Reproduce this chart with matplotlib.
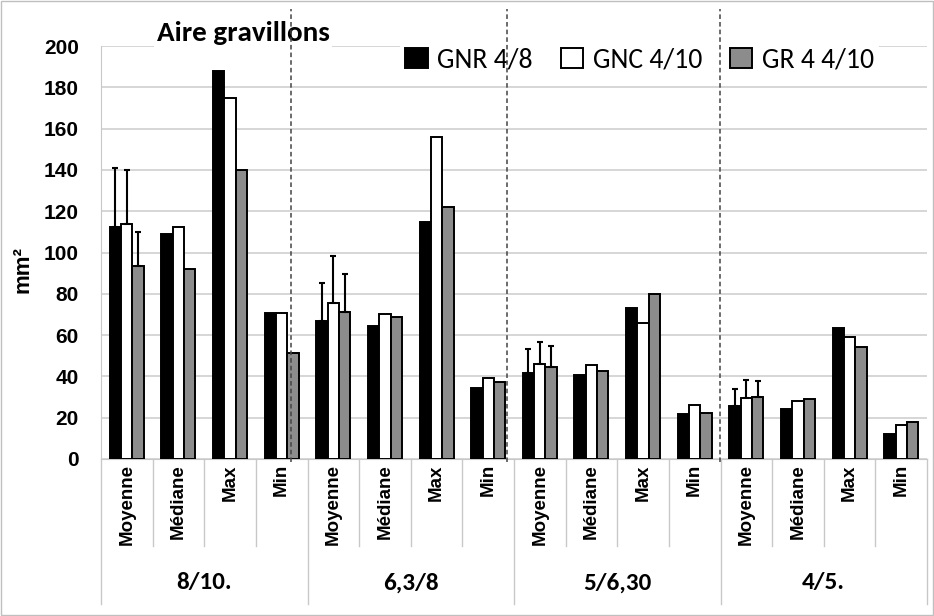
import matplotlib.pyplot as plt
from matplotlib.patches import Rectangle
import numpy as np

plt.rcParams['font.family'] = ['Carlito', 'DejaVu Sans']

# ── Données ───────────────────────────────────────────────────
groups = ['8/10.', '6,3/8', '5/6,30', '4/5.']
stats = ['Moyenne', 'Médiane', 'Max', 'Min']
series = ['GNR 4/8', 'GNC 4/10', 'GR 4 4/10']

gnr = [112.5, 108.8, 188, 70.6,
       67.0, 64.4, 114.8, 34.2,
       41.8, 40.7, 73.0, 21.8,
       25.8, 24.2, 63.6, 12.1]
gnc = [113.6, 112.5, 175, 70.9,
       75.4, 70.0, 156, 39.4,
       45.8, 45.4, 66.0, 26.2,
       29.7, 28.2, 59.2, 16.6]
gr4 = [93.5, 92.2, 140, 51.3,
       71.0, 68.9, 121.9, 37.3,
       44.7, 42.8, 79.9, 22.1,
       30.2, 29.2, 54.1, 17.8]

# écarts-types (seulement pour les moyennes)
err_gnr = [28.5, 18.2, 11.3, 8.2]
err_gnc = [26.4, 23.1, 10.9, 8.7]
err_gr4 = [16.5, 18.6, 10.0, 7.6]

colors = ['#000000', '#ffffff', '#8c8c8c']
arial = 'Liberation Sans'

# ── Figure ────────────────────────────────────────────────────
fig = plt.figure(figsize=(9.34, 6.16), dpi=100)
ax = fig.add_axes([101 / 934, 1 - 459 / 616, 826 / 934, 413 / 616])

n = len(gnr)
x = np.arange(n)
w = 0.22
for k, (vals, col) in enumerate(zip([gnr, gnc, gr4], colors)):
    ax.bar(x + (k - 1) * w, vals, w, color=col, edgecolor='black',
           linewidth=1.4, label=series[k], zorder=3)

mean_idx = np.arange(0, n, 4)
for k, (vals, errs) in enumerate(zip([gnr, gnc, gr4], [err_gnr, err_gnc, err_gr4])):
    y = np.array(vals)[mean_idx]
    ax.errorbar(mean_idx + (k - 1) * w, y, yerr=[np.zeros(4), errs],
                fmt='none', ecolor='black', elinewidth=1.5, capsize=2.5,
                capthick=1.5, zorder=4)

ax.set_xlim(-0.5, n - 0.5)
ax.set_ylim(0, 200)
ax.set_yticks(range(0, 201, 20))
ax.set_yticklabels([str(v) for v in range(0, 201, 20)],
                   fontsize=15, fontweight='bold', family=arial)
ax.tick_params(axis='y', length=0, pad=16)
ax.set_xticks([])
ax.grid(axis='y', color='#d0d0d0', linewidth=1.2, zorder=0)
for s in ['top', 'right']:
    ax.spines[s].set_visible(False)
ax.spines['left'].set_color('#c8c8c8')
ax.spines['bottom'].set_color('#c8c8c8')

# étiquettes de catégories (deux niveaux)
for i in range(n):
    ax.text(i, -2.5, stats[i % 4], rotation=90, ha='center', va='top',
            fontsize=13.5, fontweight='bold', family=arial)
for b in range(n + 1):
    bottom = -70 if b % 4 == 0 else -42
    ax.plot([b - 0.5, b - 0.5], [0, bottom], color='#c8c8c8', lw=1,
            clip_on=False)
for g, name in enumerate(groups):
    ax.text(g * 4 + 1.5, -60, name, ha='center', va='center',
            fontsize=18, fontweight='bold')

ax.set_ylabel('mm²', fontsize=16, fontweight='bold', family=arial)
ax.yaxis.set_label_coords(-0.082, 0.46)

ax.text(2.25, 206.3, 'Aire gravillons', ha='center', va='center',
        fontsize=21, fontweight='bold', zorder=5,
        bbox=dict(facecolor='white', edgecolor='none', pad=2))

leg = ax.legend(loc='center', bbox_to_anchor=(0.652, 0.966), ncol=3,
                fontsize=20, frameon=True, framealpha=1, edgecolor='none',
                handlelength=0.8, handleheight=0.75, handletextpad=0.35,
                columnspacing=1.0, borderpad=0.2)

# séparateurs pointillés
for xd in [3.18, 7.36, 11.49]:
    ax.plot([xd, xd], [-1.5, 218], color='#444444', lw=1.1,
            linestyle=(0, (3, 2)), clip_on=False, zorder=6)

fig.patches.append(Rectangle((0.001, 0.001), 0.998, 0.998,
                             transform=fig.transFigure, fill=False,
                             edgecolor='#bfbfbf', lw=1))

plt.savefig('out.png', dpi=100)
